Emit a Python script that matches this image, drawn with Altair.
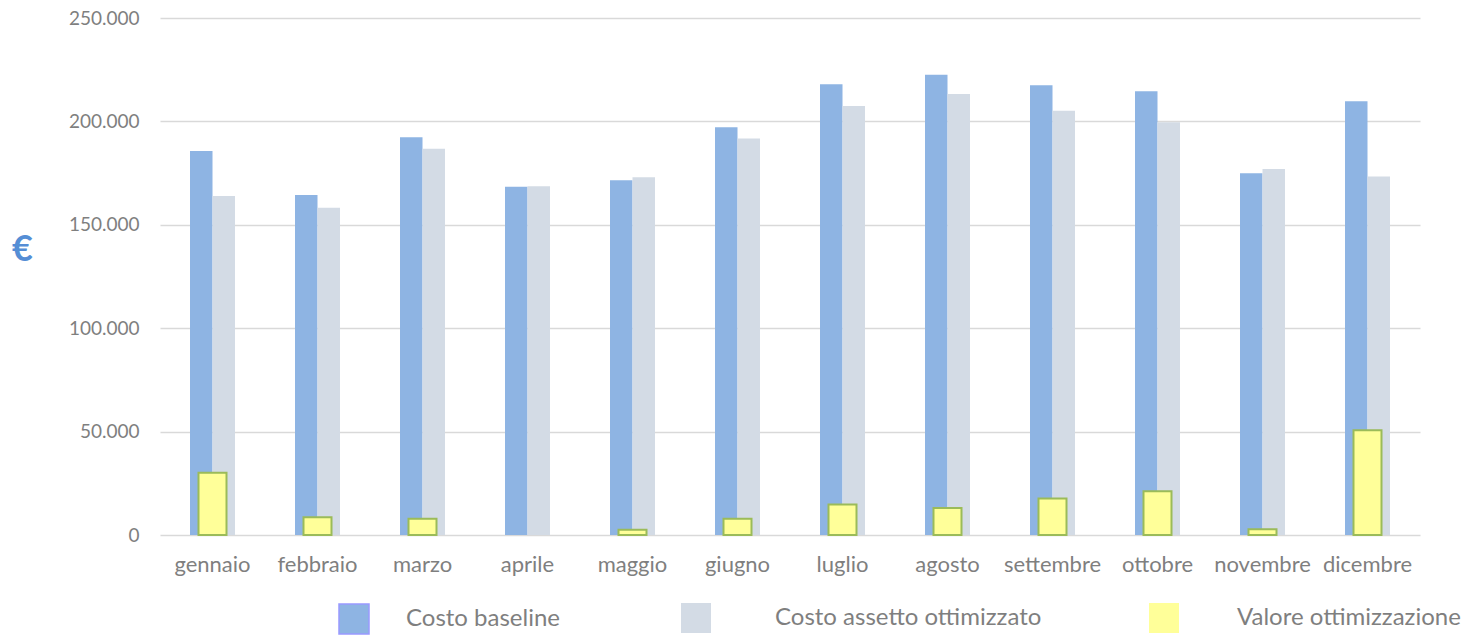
import altair as alt
import pandas as pd

mesi = ["gennaio", "febbraio", "marzo", "aprile", "maggio", "giugno",
        "luglio", "agosto", "settembre", "ottobre", "novembre", "dicembre"]
costo_baseline = [185700, 164400, 192300, 168400, 171500, 197200,
                  218000, 222500, 217500, 214600, 174900, 209800]
costo_ottimizzato = [163900, 158300, 186800, 168600, 173000, 191700,
                     207500, 213300, 205100, 199600, 177000, 173300]
valore_ottimizzazione = [30100, 8600, 7800, 0, 2500, 7800,
                         14800, 13000, 17700, 21100, 2800, 50600]

serie = ["Costo baseline", "Costo assetto ottimizzato", "Valore ottimizzazione"]
colori = ["#8EB4E3", "#D3DBE5", "#FFFF99"]
colori_legenda = ["#8EB4E3", "#DCE6F2", "#FFFF99"]

rows = []
for i, m in enumerate(mesi):
    rows.append({"mese": m, "serie": serie[0], "valore": costo_baseline[i]})
    rows.append({"mese": m, "serie": serie[1], "valore": costo_ottimizzato[i]})
    rows.append({"mese": m, "serie": serie[2], "valore": valore_ottimizzazione[i]})
df = pd.DataFrame(rows)

FONT = "Lato"
GREY = "#7F7F7F"

x = alt.X("mese:N", sort=mesi,
          scale=alt.Scale(paddingInner=0, paddingOuter=0),
          axis=alt.Axis(title=None, labelAngle=0, ticks=False, domain=False, grid=False,
                        labelFont=FONT, labelFontSize=22, labelColor=GREY, labelPadding=19))
y = alt.Y("valore:Q", scale=alt.Scale(domain=[0, 250000]),
          axis=alt.Axis(values=[0, 50000, 100000, 150000, 200000, 250000],
                        labelExpr="replace(format(datum.value, ','), ',', '.')",
                        ticks=False, domain=False, gridColor="#D9D9D9", gridWidth=1.5,
                        labelFont=FONT, labelFontSize=19, labelColor=GREY, labelPadding=21,
                        title="€", titleAngle=0, titleFont=FONT, titleFontSize=36,
                        titleFontWeight="bold", titleColor="#558ED5",
                        titleX=-138, titleY=231, titleAlign="center", titleBaseline="middle"))


def colore(i, legend_x, offset, stroke_color=None):
    kw = dict(title=None, orient="none", direction="horizontal",
              legendX=legend_x, legendY=585, symbolType="square",
              symbolSize=900, symbolOpacity=1, symbolFillColor=colori_legenda[i],
              labelOffset=offset, labelLimit=500,
              labelFont=FONT, labelFontSize=24, labelColor=GREY)
    if stroke_color:
        kw.update(symbolStrokeColor=stroke_color, symbolStrokeWidth=1.5)
    else:
        kw.update(symbolStrokeWidth=0)
    return alt.Color("serie:N", scale=alt.Scale(domain=[serie[i]], range=[colori[i]]),
                     legend=alt.Legend(**kw))


base = alt.Chart(df).encode(x=x, y=y)

blue = base.transform_filter(alt.datum.serie == serie[0]).mark_bar(
    width=22.5, xOffset=-11.25).encode(color=colore(0, 178, 36, "#9999FF"))
grey = base.transform_filter(alt.datum.serie == serie[1]).mark_bar(
    width=22.5, xOffset=11.25).encode(color=colore(1, 521, 64))
yellow = base.transform_filter((alt.datum.serie == serie[2]) & (alt.datum.valore > 0)).mark_bar(
    width=28, stroke="#9BBB59", strokeWidth=2).encode(color=colore(2, 989, 58))

chart = alt.layer(blue, grey, yellow).resolve_scale(color="independent").properties(
    width=1260, height=517,
    autosize=alt.AutoSizeParams(type="none"),
    padding={"left": 152, "top": 10, "right": 47, "bottom": 100},
).configure_view(strokeWidth=0)

chart.save("out.html", embed_options={"renderer": "svg", "actions": False})
